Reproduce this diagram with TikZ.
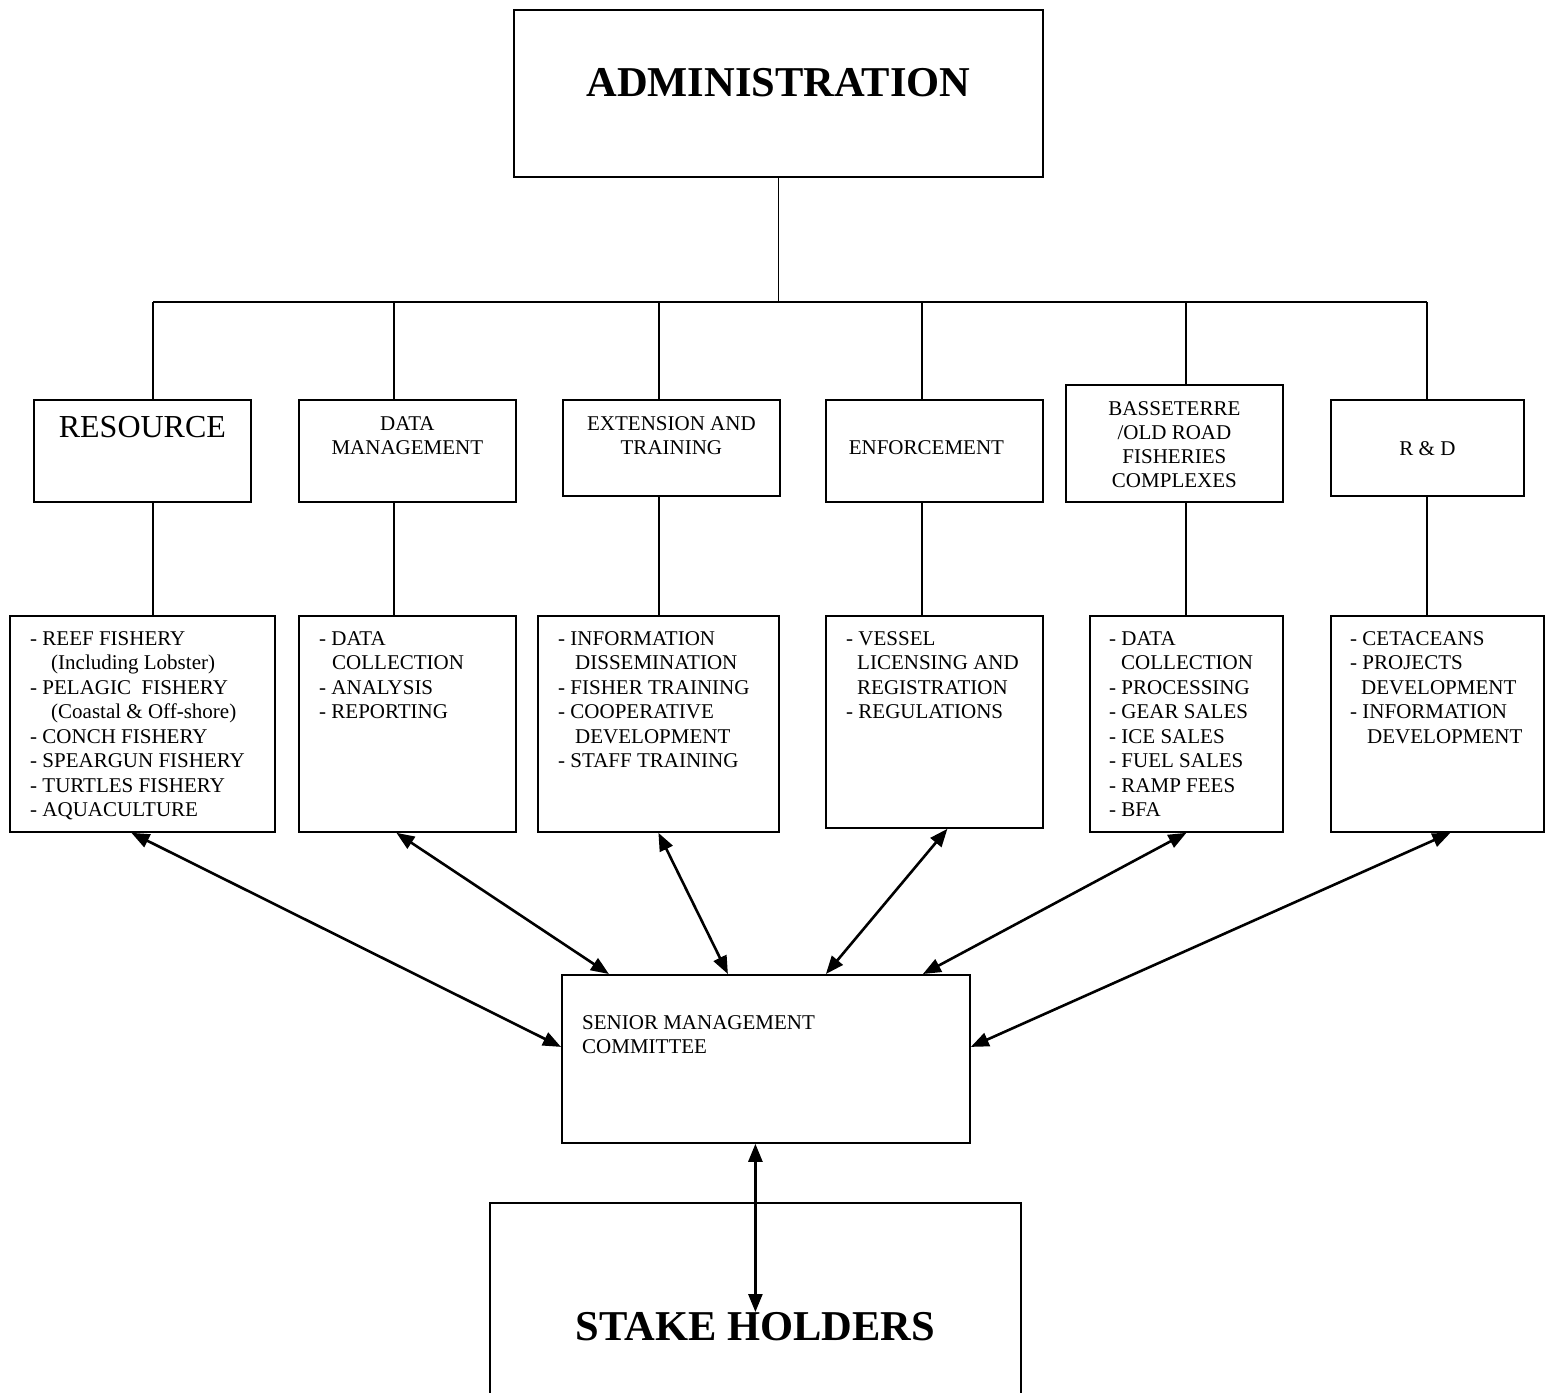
\documentclass[tikz,border=0pt]{standalone}
\usepackage{fontspec}
\setmainfont{Liberation Serif}
\usetikzlibrary{arrows.meta, positioning}

\begin{document}
\begin{tikzpicture}[
  x=1pt, y=-1pt,
  box/.style={draw, line width=1.8pt, inner sep=0pt, anchor=north west},
  link/.style={line width=1.5pt},
  arr/.style={{Triangle[length=18pt,width=14pt]}-{Triangle[length=18pt,width=14pt]}, line width=2.6pt},
  head/.style={inner sep=0pt, align=center, font=\fontsize{21}{24.5}\selectfont},
  items/.style={inner sep=0pt, align=left, font=\fontsize{21}{24.5}\selectfont},
  big/.style={inner sep=0pt, font=\fontsize{42.5}{50}\selectfont\bfseries}
]
\useasboundingbox (0,0) rectangle (1555,1392);

% top box
\node[box, minimum width=529pt, minimum height=167pt] (admin) at (513,9) {};
\node[big, below=59pt of admin.north] (adminTxt) {ADMINISTRATION};

% sections
\node[box, minimum width=217pt, minimum height=102pt] (res) at (33,399) {};
\node[box, minimum width=217pt, minimum height=102pt] (dm) at (298,399) {};
\node[box, minimum width=217pt, minimum height=96pt] (ext) at (562,399) {};
\node[box, minimum width=217pt, minimum height=102pt] (enf) at (825,399) {};
\node[box, minimum width=217pt, minimum height=117pt] (bas) at (1065,384) {};
\node[box, minimum width=193pt, minimum height=96pt] (rd) at (1330,399) {};

\node[head, font=\fontsize{32}{36}\selectfont, below=17pt of res.north] (resTxt) {RESOURCE};
\node[head, below=17pt of dm.north] (dmTxt) {DATA\\MANAGEMENT};
\node[head, below=17pt of ext.north] (extTxt) {EXTENSION AND\\TRAINING};
\node[head, below=41pt of enf.north, xshift=-8pt] (enfTxt) {ENFORCEMENT};
\node[head, font=\fontsize{21}{24}\selectfont, below=17pt of bas.north] (basTxt) {BASSETERRE\\/OLD ROAD\\FISHERIES\\COMPLEXES};
\node[head, below=42pt of rd.north] (rdTxt) {R \& D};

% duties
\node[box, minimum width=265pt, minimum height=216pt] (reef) at (9,615) {};
\node[box, minimum width=217pt, minimum height=216pt] (dcol) at (298,615) {};
\node[box, minimum width=241pt, minimum height=216pt] (info) at (537,615) {};
\node[box, minimum width=217pt, minimum height=212pt] (vessel) at (825,615) {};
\node[box, minimum width=193pt, minimum height=216pt] (sales) at (1089,615) {};
\node[box, minimum width=213pt, minimum height=216pt] (ceta) at (1330,615) {};

\node[items, below right=16pt and 21pt of reef.north west] (reefTxt) {- REEF FISHERY\\
  \hspace*{21pt}(Including Lobster)\\
  - PELAGIC\ \ FISHERY\\
  \hspace*{21pt}(Coastal \& Off-shore)\\
  - CONCH FISHERY\\
  - SPEARGUN FISHERY\\
  - TURTLES FISHERY\\
  - AQUACULTURE};
\node[items, below right=16pt and 21pt of dcol.north west] (dcolTxt) {- DATA\\
  \hspace*{13pt}COLLECTION\\
  - ANALYSIS\\
  - REPORTING};
\node[items, below right=16pt and 21pt of info.north west] (infoTxt) {- INFORMATION\\
  \hspace*{17pt}DISSEMINATION\\
  - FISHER TRAINING\\
  - COOPERATIVE\\
  \hspace*{17pt}DEVELOPMENT\\
  - STAFF TRAINING};
\node[items, below right=16pt and 21pt of vessel.north west] (vesselTxt) {- VESSEL\\
  \hspace*{11pt}LICENSING AND\\
  \hspace*{11pt}REGISTRATION\\
  - REGULATIONS};
\node[items, below right=16pt and 20pt of sales.north west] (salesTxt) {- DATA\\
  \hspace*{12pt}COLLECTION\\
  - PROCESSING\\
  - GEAR SALES\\
  - ICE SALES\\
  - FUEL SALES\\
  - RAMP FEES\\
  - BFA};
\node[items, below right=16pt and 20pt of ceta.north west] (cetaTxt) {- CETACEANS\\
  - PROJECTS\\
  \hspace*{11pt}DEVELOPMENT\\
  - INFORMATION\\
  \hspace*{17pt}DEVELOPMENT};

% committee and stake holders
\node[box, minimum width=408pt, minimum height=168pt] (smc) at (561,974) {};
\node[items, below right=41pt and 21pt of smc.north west] (smcTxt) {SENIOR MANAGEMENT\\COMMITTEE};
\node[box, minimum width=531pt, minimum height=260pt] (stake) at (489,1202) {};
\node[big, below=110pt of stake.north] (stakeTxt) {STAKE HOLDERS};

% tree lines
\coordinate (b1) at (153,302);
\coordinate (b2) at (394,302);
\coordinate (b3) at (659,302);
\coordinate (b4) at (922,302);
\coordinate (b5) at (1186,302);
\coordinate (b6) at (1427,302);

\draw[link] (admin.south) -- (admin.south |- b1);
\draw[link] (b1) -- (b6);
\draw[link] (b1) -- (b1 |- res.north);
\draw[link] (b2) -- (b2 |- dm.north);
\draw[link] (b3) -- (b3 |- ext.north);
\draw[link] (b4) -- (b4 |- enf.north);
\draw[link] (b5) -- (b5 |- bas.north);
\draw[link] (b6) -- (b6 |- rd.north);
\draw[link] (res.south -| b1) -- (reef.north -| b1);
\draw[link] (dm.south -| b2) -- (dcol.north -| b2);
\draw[link] (ext.south -| b3) -- (info.north -| b3);
\draw[link] (enf.south -| b4) -- (vessel.north -| b4);
\draw[link] (bas.south -| b5) -- (sales.north -| b5);
\draw[link] (rd.south -| b6) -- (ceta.north -| b6);

% two-way arrows
\draw[arr] ([xshift=-11pt]reef.south) -- ([yshift=12pt]smc.west);
\draw[arr] ([xshift=-11pt]dcol.south) -- ([xshift=-157pt]smc.north);
\draw[arr] (info.south) -- ([xshift=-38pt]smc.north);
\draw[arr] ([xshift=13pt]vessel.south) -- ([xshift=60pt]smc.north);
\draw[arr] (sales.south) -- ([xshift=157pt]smc.north);
\draw[arr] ([xshift=13pt]ceta.south) -- ([yshift=12pt]smc.east);
\coordinate (shTip) at ([yshift=-110pt]stake.north);
\draw[arr] (shTip) -- (shTip |- smc.south);
\end{tikzpicture}
\end{document}
